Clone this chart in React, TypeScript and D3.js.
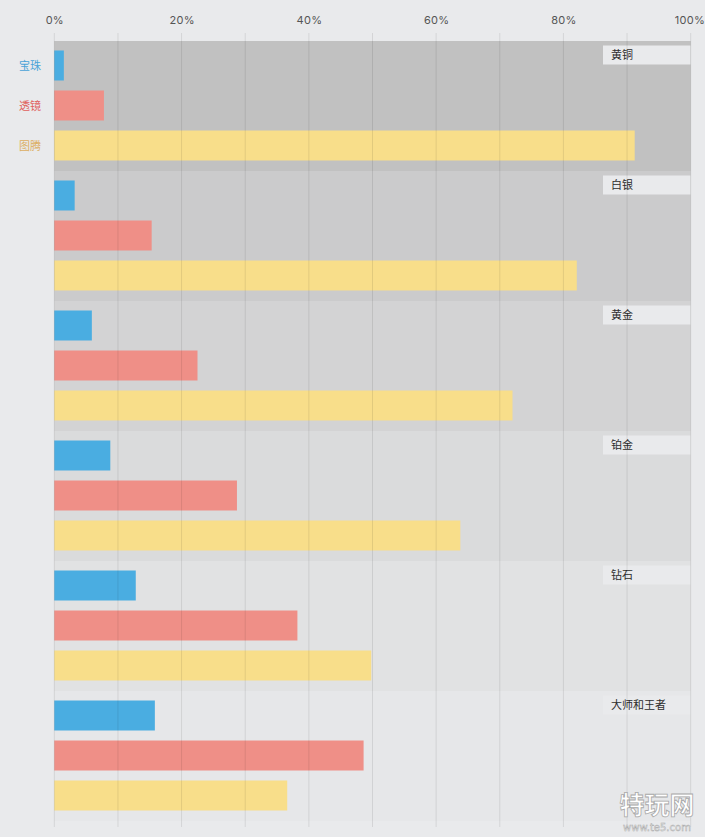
import React, { useRef, useEffect } from 'react';
import * as d3 from 'd3';

const ranks = ['黄铜', '白银', '黄金', '铂金', '钻石', '大师和王者'];
const series = ['宝珠', '透镜', '图腾'];
const orbValues = [1.5, 3.2, 5.9, 8.8, 12.8, 15.8];
const lensValues = [7.8, 15.3, 22.5, 28.7, 38.2, 48.6];
const totemValues = [91.2, 82.1, 72.0, 63.8, 49.8, 36.6];
const tickValues = [0, 20, 40, 60, 80, 100];

const barColors = ['#4aade1', '#ef8f87', '#f8de8a'];
const labelColors = ['#4aa3d8', '#e0605d', '#dcae62'];
const bandColors = ['#c1c1c1', '#cbcbcc', '#d3d3d4', '#dadbdc', '#e1e2e3', '#e6e7e9'];

const App = () => {
  const width = 705;
  const height = 837;
  const ref = useRef(null);

  useEffect(() => {
    const svg = d3.select(ref.current);
    svg.selectAll('*').remove();

    const values = [orbValues, lensValues, totemValues];
    const data = ranks.map((r, i) => ({
      rank: r,
      vals: series.map((s, j) => ({ s, v: values[j][i] })),
    }));

    const x = d3.scaleLinear().domain([0, 100]).range([54.3, 690.7]);
    const y = d3.scaleBand().domain(ranks).range([41, 821]).padding(0);
    const yInner = d3
      .scaleBand()
      .domain(series)
      .range([0, y.bandwidth()])
      .paddingInner(0.25)
      .paddingOuter(0.25);
    const color = d3.scaleOrdinal<string, string>().domain(series).range(barColors);

    svg.append('rect').attr('width', width).attr('height', height).attr('fill', '#e9eaec');

    // rank bands
    svg
      .append('g')
      .selectAll('rect')
      .data(ranks)
      .enter()
      .append('rect')
      .attr('x', x(0))
      .attr('y', (d) => y(d) as number)
      .attr('width', x(100) - x(0))
      .attr('height', y.bandwidth())
      .attr('fill', (_, i) => bandColors[i]);

    // bars
    const groups = svg
      .append('g')
      .selectAll('g')
      .data(data)
      .enter()
      .append('g')
      .attr('transform', (d) => `translate(0, ${(y(d.rank) as number) - 0.5})`);
    groups
      .selectAll('rect')
      .data((d) => d.vals)
      .enter()
      .append('rect')
      .attr('x', x(0))
      .attr('y', (d) => yInner(d.s) as number)
      .attr('width', (d) => x(d.v) - x(0))
      .attr('height', yInner.bandwidth())
      .attr('fill', (d) => color(d.s));

    // rank labels
    const labels = svg
      .append('g')
      .selectAll('g')
      .data(ranks)
      .enter()
      .append('g')
      .attr('transform', (d) => `translate(0, ${y(d)})`);
    labels
      .append('rect')
      .attr('x', 603)
      .attr('y', 4.5)
      .attr('width', x(100) - 603)
      .attr('height', 19)
      .attr('fill', '#e9eaec');
    labels
      .append('text')
      .text((d) => d)
      .attr('x', 611)
      .attr('y', 14.5)
      .attr('dy', '0.35em')
      .attr('fill', '#2d2d2d')
      .style('font', '11px "Noto Sans CJK SC", sans-serif');

    // gridlines
    svg
      .append('g')
      .selectAll('line')
      .data(d3.range(0, 101, 10))
      .enter()
      .append('line')
      .attr('x1', (d) => x(d))
      .attr('x2', (d) => x(d))
      .attr('y1', 33)
      .attr('y2', 827)
      .attr('stroke', 'rgba(0,0,0,0.09)')
      .attr('stroke-width', 1);

    // series labels
    svg
      .append('g')
      .selectAll('text')
      .data(series)
      .enter()
      .append('text')
      .text((d) => d)
      .attr('x', 41)
      .attr('y', (d) => (y(ranks[0]) as number) + (yInner(d) as number) + yInner.bandwidth() / 2)
      .attr('dy', '0.35em')
      .attr('text-anchor', 'end')
      .attr('fill', (_, i) => labelColors[i])
      .style('font', '11px "Noto Sans CJK SC", sans-serif');

    // top axis
    const axis = d3
      .axisTop(x)
      .tickValues(tickValues)
      .tickSize(0)
      .tickPadding(9)
      .tickFormat((d) => `${d}%`);
    const ax = svg.append('g').attr('transform', 'translate(0, 33)').call(axis);
    ax.select('.domain').remove();
    ax.selectAll('text')
      .attr('fill', '#555')
      .style('font', '11px Inter, sans-serif')
      .style('letter-spacing', '0.3px');
    ax.selectAll('text').filter((d) => d === 100).attr('text-anchor', 'end').attr('x', 14);

    // watermark
    const wm = svg.append('g').attr('transform', 'translate(657, 0)');
    wm.append('text')
      .text('特玩网')
      .attr('y', 814)
      .attr('text-anchor', 'middle')
      .attr('fill', '#ffffff')
      .attr('stroke', '#a8a8a8')
      .attr('stroke-width', 0.8)
      .style('font', 'bold 25px "Noto Sans CJK SC", sans-serif');
    wm.append('text')
      .text('www.te5.com')
      .attr('y', 831)
      .attr('text-anchor', 'middle')
      .attr('fill', '#ffffff')
      .attr('stroke', '#a8a8a8')
      .attr('stroke-width', 0.5)
      .style('font', '10px "DejaVu Sans", sans-serif');
  }, []);

  return (
    <div style={{ position: 'absolute', left: 0, top: 0, width, height }}>
      <svg ref={ref} width={width} height={height} style={{ display: 'block' }} />
    </div>
  );
};

export default App;
